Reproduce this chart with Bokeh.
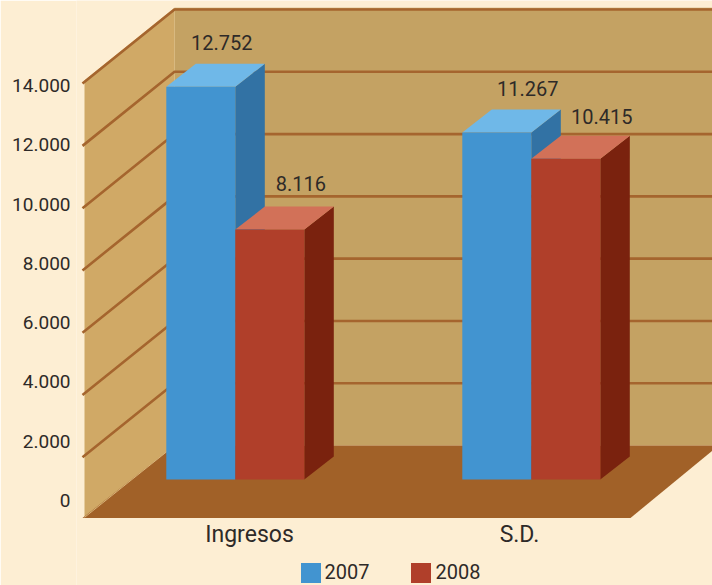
from bokeh.plotting import figure
from bokeh.models import Range1d, LinearAxis, FixedTicker, Legend, LegendItem, ColumnDataSource
from bokeh.core.properties import value
from bokeh.embed import file_html
from bokeh.resources import INLINE

categories = ["Ingresos", "S.D."]
values_2007 = [12752, 11267]
values_2008 = [8116, 10415]
y_ticks = [0, 2000, 4000, 6000, 8000, 10000, 12000, 14000]
y_tick_labels = ["0", "2.000", "4.000", "6.000", "8.000", "10.000", "12.000", "14.000"]

FONT = "Roboto"
INK = "#2e2a28"
BG = "#fdeed3"

W, H = 712, 585
LEFT, BOTTOM = 76, 585


def px_range(zero_px, k):
    """Value range for a frame spanning pixel rows 0..BOTTOM, with value 0 at zero_px and k px per unit."""
    return Range1d((zero_px - BOTTOM) / k, zero_px / k)


K_WALL, K_BAR, K_TICK = 0.03114, 0.0308, 415 / 14000
BACK_ZERO, BAR_ZERO, TICK_ZERO = 445, 479, 500

p = figure(width=W, height=H, output_backend="svg", toolbar_location=None,
           x_range=Range1d(LEFT, W), y_range=px_range(BACK_ZERO, K_WALL),
           x_axis_type=None, y_axis_type=None,
           min_border_left=LEFT, min_border_right=0, min_border_top=0, min_border_bottom=0,
           background_fill_color=BG, border_fill_color=BG, outline_line_color=None)
p.xgrid.visible = False
p.ygrid.visible = False
p.extra_y_ranges = {"bars": px_range(BAR_ZERO, K_BAR), "ticks": px_range(TICK_ZERO, K_TICK)}

# Room geometry, in pixels of the picture's width and wall units of height
WX0, WX1, XR = 84, 174, W
DROP = 72.5 / K_WALL     # how far the front of the left wall sits below the back
TOP = 14000
p.patch([WX1, XR, XR, WX1], [0, 0, TOP + 60, TOP + 60], fill_color="#c4a263", line_color=None)
p.patch([WX0, WX1, WX1, WX0], [-DROP, 0, TOP + 60, TOP + 60 - DROP], fill_color="#d0a966", line_color=None)
grid_color = "#a5652e"
for t in y_ticks[1:]:
    p.line([WX0 - 2, WX1, XR], [t - DROP - 50, t, t], line_color=grid_color, line_width=2.6)
p.patch([WX0 - 2, WX1, XR, XR, 630], [-DROP, 0, 0, -160, -DROP], fill_color="#a16128", line_color=None)
p.line([WX0, WX1], [-DROP + 20, 0], line_color="#d8b47a", line_width=1)

# Bars
centers = [234.8, 530.8]
BW = 69
DX, DY = 29.5, 23 / K_BAR
series = [
    ("2007", values_2007, -BW / 2, "#4294d0", "#6fb8e8", "#3272a4"),
    ("2008", values_2008, BW / 2, "#b03f2a", "#d27158", "#7a220e"),
]
renderers = {}
for ci, c in enumerate(centers):
    for name, vals, off, front, top_c, side in series:
        x = c + off
        v = vals[ci]
        x0, x1 = x - BW / 2, x + BW / 2
        p.patch([x1, x1 + DX, x1 + DX, x1], [0, DY, v + DY, v], fill_color=side, line_color=None, y_range_name="bars")
        p.patch([x0, x0 + DX, x1 + DX, x1], [v, v + DY, v + DY, v], fill_color=top_c, line_color=None, y_range_name="bars")
        r = p.vbar(x=[x], top=[v], bottom=0, width=BW, fill_color=front, line_color=None, y_range_name="bars")
        renderers.setdefault(name, r)

# Value labels
label_dx = [21, 31, 31, 36]
label_dy = [21, 23, 21, 19]
xs, ys, txt = [], [], []
for ci, c in enumerate(centers):
    for name, vals, off, *_ in series:
        xs.append(c + off)
        ys.append(vals[ci] + DY)
        txt.append(f"{vals[ci]:,}".replace(",", "."))
src = ColumnDataSource(dict(x=xs, y=ys, text=txt, xo=label_dx, yo=[-d for d in label_dy]))
p.text("x", "y", text="text", source=src, x_offset="xo", y_offset="yo", y_range_name="bars",
       text_font=value(FONT), text_font_size="20px", text_color=INK,
       text_align="center", text_baseline="middle")

# Axis and category labels
yax = LinearAxis(y_range_name="ticks", ticker=FixedTicker(ticks=y_ticks),
                 major_label_overrides=dict(zip(y_ticks, y_tick_labels)),
                 axis_line_color=None, major_tick_line_color=None, minor_tick_line_color=None,
                 major_label_standoff=0, major_label_text_font=FONT,
                 major_label_text_font_size="19px", major_label_text_color=INK)
p.add_layout(yax, "left")

cat_x = [249, 519]
cat_y = (BACK_ZERO - 534) / K_WALL
p.text(cat_x, [cat_y, cat_y], text=categories, text_font=value(FONT), text_font_size="23px",
       text_color=INK, text_align="center", text_baseline="middle")

legend = Legend(items=[LegendItem(label=n, renderers=[renderers[n]]) for n in ("2007", "2008")],
                orientation="horizontal", location=(221.5, 0.5),
                background_fill_alpha=0, border_line_color=None,
                glyph_width=25, glyph_height=25, label_standoff=2, spacing=39,
                label_text_font=FONT, label_text_font_size="20px", label_text_color=INK,
                padding=0, margin=0)
p.add_layout(legend)

open("out.html", "w").write(file_html(p, INLINE))
